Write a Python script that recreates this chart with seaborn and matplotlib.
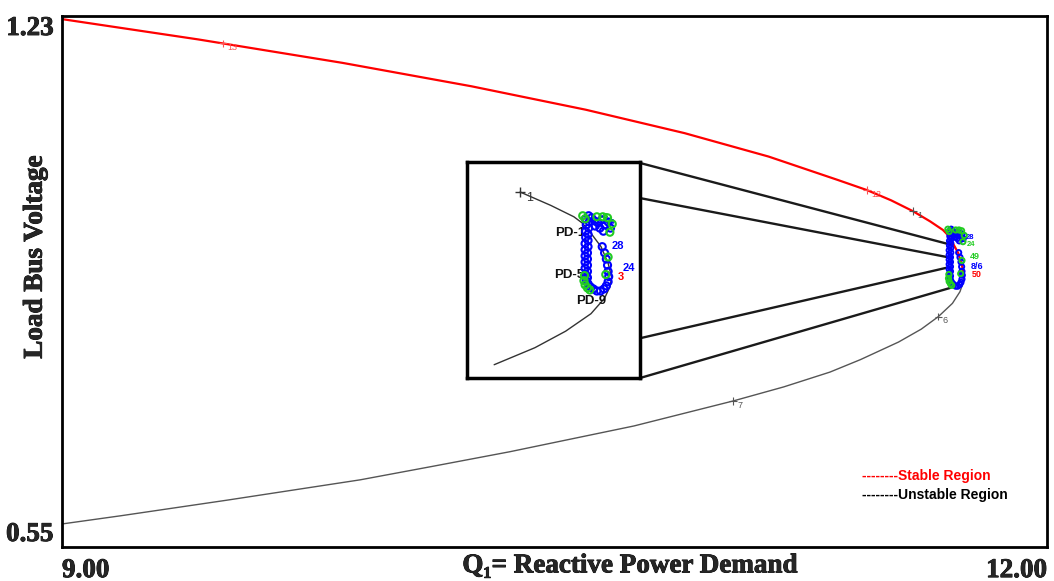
import matplotlib
matplotlib.use("Agg")
import matplotlib.pyplot as plt
import matplotlib.patheffects as pe
import seaborn as sns

# ---------------- data ----------------
stable_q = [9.000, 9.415, 9.854, 10.247, 10.595, 10.896, 11.152, 11.363, 11.452,
            11.525, 11.592, 11.644, 11.683, 11.697, 11.708, 11.729, 11.741, 11.747]
stable_v = [1.226, 1.200, 1.170, 1.140, 1.110, 1.080, 1.050, 1.020, 1.007,
            0.994, 0.980, 0.967, 0.956, 0.950, 0.943, 0.927, 0.911, 0.897]
unstable_q = [11.747, 11.744, 11.735, 11.712, 11.669, 11.617, 11.548, 11.432, 11.339,
              11.198, 11.044, 10.742, 10.364, 10.125, 9.908, 9.503, 9.179, 9.000]
unstable_v = [0.897, 0.888, 0.877, 0.862, 0.845, 0.829, 0.8125, 0.790, 0.774,
              0.755, 0.737, 0.705, 0.672, 0.653, 0.636, 0.610, 0.590, 0.5795]

# numbered solution points on the curves
pt_labels = ["13", "12", "1", "6", "7"]
pt_q = [9.490, 11.452, 11.592, 11.669, 11.044]
pt_v = [1.195, 1.007, 0.980, 0.845, 0.737]
pt_colors = ["#ff5050", "#ff5050", "#555555", "#555555", "#555555"]

# PD trajectory markers near the nose
blue_q = [11.708, 11.703, 11.709, 11.704, 11.708, 11.703, 11.707, 11.703, 11.707, 11.702,
          11.707, 11.702, 11.706, 11.702, 11.706, 11.702, 11.706, 11.702, 11.706, 11.703,
          11.706, 11.704, 11.707,
          11.711, 11.716, 11.722, 11.728, 11.734, 11.738,
          11.741, 11.742, 11.741, 11.740, 11.738, 11.735, 11.731,
          11.713, 11.718, 11.724, 11.730, 11.736, 11.741, 11.727, 11.733, 11.719, 11.745]
blue_v = [0.957, 0.954, 0.951, 0.948, 0.945, 0.942, 0.939, 0.936, 0.933, 0.930,
          0.927, 0.924, 0.921, 0.918, 0.915, 0.912, 0.909, 0.906, 0.903, 0.900,
          0.897, 0.894, 0.891,
          0.888, 0.886, 0.884, 0.884, 0.886, 0.889,
          0.893, 0.898, 0.903, 0.909, 0.915, 0.921, 0.927,
          0.955, 0.952, 0.950, 0.953, 0.948, 0.951, 0.945, 0.942, 0.947, 0.945]
green_q = [11.698, 11.702, 11.722, 11.732, 11.740, 11.748, 11.744,
           11.701, 11.700, 11.702, 11.706, 11.710, 11.741, 11.737]
green_v = [0.957, 0.954, 0.956, 0.956, 0.955, 0.949, 0.941,
           0.899, 0.894, 0.890, 0.887, 0.885, 0.917, 0.900]

# zoom box (data units) and connector lines
box_q = [10.2335, 10.7604]
box_v = [0.7664, 1.0430]
conn_q0 = [10.2518, 10.7604, 10.2335, 10.7604]
conn_v0 = [1.0379, 1.0418, 0.7664, 0.7664]
conn_q1 = [11.7107, 11.7107, 11.7046, 11.7046]
conn_v1 = [0.9201, 0.9367, 0.9086, 0.8817]

zoom_qlim = [11.502, 11.795]
zoom_vlim = [0.7996, 1.0091]

x_ticks = [9.0, 12.0]
x_ticklabels = ["9.00", "12.00"]
y_ticks = [0.55, 1.23]
y_ticklabels = ["0.55", "1.23"]

# ---------------- figure ----------------
sns.set_style("white")
fig = plt.figure(figsize=(10.54, 5.81), dpi=100)
ax = fig.add_axes([62/1054, 1-547/581, 985/1054, 531/581])

serif = dict(family="Liberation Serif", weight="bold", size=19.5)
heavy = [pe.withStroke(linewidth=0.6, foreground="black")]

sns.lineplot(x=stable_q, y=stable_v, sort=False, estimator=None, color="#ff0000",
             lw=1.6, ax=ax, legend=False)
sns.lineplot(x=unstable_q, y=unstable_v, sort=False, estimator=None, color="#555555",
             lw=1.0, ax=ax, legend=False)

for i in range(len(conn_q0)):
    sns.lineplot(x=[conn_q0[i], conn_q1[i]], y=[conn_v0[i], conn_v1[i]], sort=False,
                 estimator=None, color="#1a1a1a", lw=1.7, ax=ax, legend=False)

sns.scatterplot(x=blue_q, y=blue_v, marker="o", s=14, color="blue", facecolors="none",
                edgecolor="blue", linewidth=1.4, ax=ax, legend=False, zorder=5)
sns.scatterplot(x=green_q, y=green_v, marker="o", s=14, color="#22cc22", facecolors="none",
                edgecolor="#22cc22", linewidth=1.4, ax=ax, legend=False, zorder=5)

sns.scatterplot(x=pt_q, y=pt_v, marker="+", s=30, c=pt_colors, linewidth=0.8,
                ax=ax, legend=False, zorder=6)
for lab, q, v, c in zip(pt_labels, pt_q, pt_v, pt_colors):
    ax.annotate(lab, (q, v), xytext=(3, -3), textcoords="offset points",
                fontsize=6.5, color=c, family="Liberation Sans", va="center")

# small labels at the nose
small = dict(family="Liberation Sans", weight="bold", va="center")
ax.text(11.766, 0.922, "49", color="#22cc22", fontsize=6.5, **small)
ax.text(11.768, 0.909, "8/6", color="blue", fontsize=6.5, **small)
ax.text(11.770, 0.899, "50", color="red", fontsize=6.5, **small)
ax.text(11.752, 0.946, "28", color="blue", fontsize=5.5, **small)
ax.text(11.756, 0.937, "24", color="#22cc22", fontsize=5.5, **small)

ax.set_xlim(x_ticks[0], x_ticks[1])
ax.set_ylim(y_ticks[0], y_ticks[1])
ax.set_xticks(x_ticks)
ax.set_xticklabels(x_ticklabels, fontdict=serif)
ax.set_yticks(y_ticks)
ax.set_yticklabels(y_ticklabels, fontdict=serif)
xl = ax.get_xticklabels()
xl[0].set_ha("left")
xl[1].set_ha("right")
yl = ax.get_yticklabels()
yl[0].set_va("bottom")
yl[1].set_va("top")
for t in xl + yl:
    t.set_path_effects(heavy)
ax.tick_params(axis="both", length=0)
ax.tick_params(axis="x", pad=8)
ax.tick_params(axis="y", pad=6)
for s in ax.spines.values():
    s.set_visible(True)
    s.set_linewidth(2)
    s.set_color("black")

ax.set_xlabel("Q\u2081= Reactive Power Demand", fontdict=serif, path_effects=heavy)
ax.xaxis.set_label_coords(0.5767, -0.012)
ax.set_ylabel("Load Bus Voltage", fontdict=serif, path_effects=heavy)
ax.yaxis.set_label_coords(-0.0145, 0.546)

ax.text(0.812, 0.1337, "--------Stable Region", transform=ax.transAxes, color="red",
        fontsize=10, family="Liberation Sans", weight="bold", va="center")
ax.text(0.812, 0.098, "--------Unstable Region", transform=ax.transAxes, color="black",
        fontsize=10, family="Liberation Sans", weight="bold", va="center")

# ---------------- zoom box ----------------
axins = ax.inset_axes([box_q[0], box_v[0], box_q[1]-box_q[0], box_v[1]-box_v[0]],
                      transform=ax.transData)
ins_q = stable_q[10:] + unstable_q[1:7]
ins_v = stable_v[10:] + unstable_v[1:7]
sns.lineplot(x=ins_q, y=ins_v, sort=False, estimator=None, color="#333333", lw=1.0,
             ax=axins, legend=False)
sns.scatterplot(x=blue_q, y=blue_v, marker="o", s=26, color="blue", facecolors="none",
                edgecolor="blue", linewidth=1.5, ax=axins, legend=False, zorder=5)
sns.scatterplot(x=green_q, y=green_v, marker="o", s=26, color="#22cc22", facecolors="none",
                edgecolor="#22cc22", linewidth=1.5, ax=axins, legend=False, zorder=5)
sns.scatterplot(x=pt_q[2:3], y=pt_v[2:3], marker="+", s=60, color="#333333", linewidth=1.0,
                ax=axins, legend=False, zorder=6)
axins.annotate(pt_labels[2], (pt_q[2], pt_v[2]), xytext=(4, -4), textcoords="offset points",
               fontsize=9, color="#333333", family="Liberation Sans", va="center")
sans_b = dict(family="Liberation Sans", weight="bold")
axins.text(11.702, 0.940, "PD-1", ha="right", va="center", fontsize=9.5, color="#111111", **sans_b)
axins.text(11.700, 0.8995, "PD-5", ha="right", va="center", fontsize=9.5, color="#111111", **sans_b)
axins.text(11.712, 0.8743, "PD-9", ha="center", va="center", fontsize=9.5, color="#111111", **sans_b)
axins.text(11.7577, 0.9276, "28", ha="center", va="center", fontsize=8, color="blue", **sans_b)
axins.text(11.776, 0.9063, "24", ha="center", va="center", fontsize=8, color="blue", **sans_b)
axins.text(11.763, 0.8976, "3", ha="center", va="center", fontsize=8, color="red", **sans_b)
axins.text(11.735, 0.956, "23", ha="center", va="center", fontsize=6, color="#22aa22", **sans_b)
axins.text(11.745, 0.950, "24", ha="center", va="center", fontsize=6, color="blue", **sans_b)
axins.set_xlim(zoom_qlim)
axins.set_ylim(zoom_vlim)
axins.set_xticks([])
axins.set_yticks([])
axins.set_xlabel("")
axins.set_ylabel("")
for s in axins.spines.values():
    s.set_visible(True)
    s.set_linewidth(2.5)
    s.set_color("black")

fig.savefig("out.png", dpi=100)
